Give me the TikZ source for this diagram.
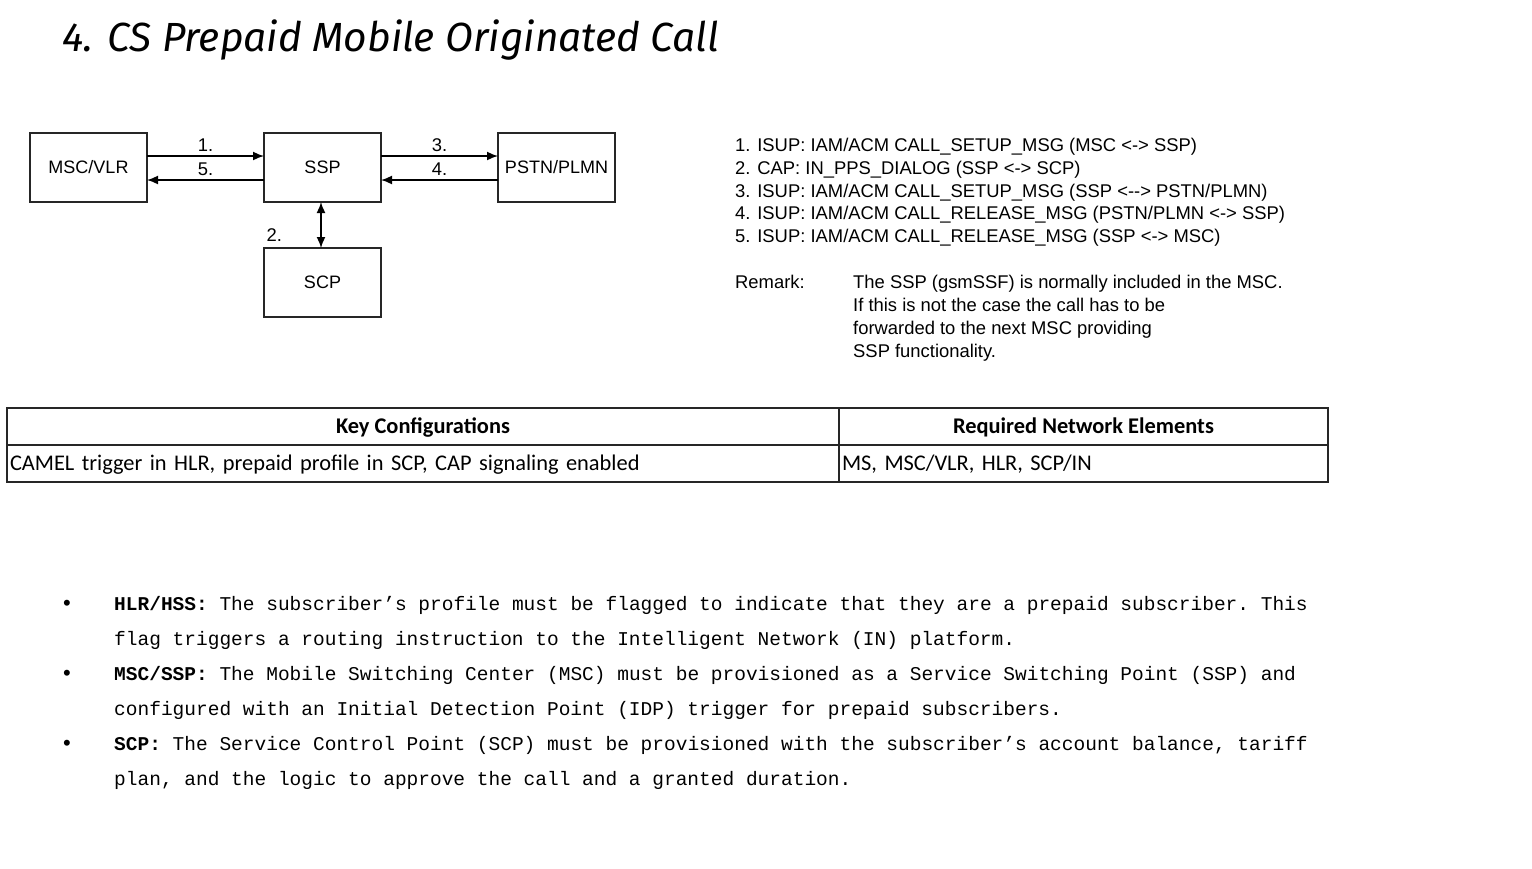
\documentclass[tikz,border=0pt]{standalone}
\usepackage{fontspec}
\setmainfont{Liberation Sans}
\setmonofont{Liberation Mono}
\newfontfamily\titlefont{Fira Sans}
\newfontfamily\tablefont{Carlito}
\usetikzlibrary{positioning,arrows.meta}

\tikzset{
    box/.style={draw=black!85, line width=1.3pt, minimum width=117pt, minimum height=69pt,
                outer sep=0pt, font=\fontsize{18}{20}\selectfont},
    msgarrow/.style={line width=1.6pt, -{Latex[length=11pt,width=9pt]}},
    lbl/.style={font=\fontsize{18.4}{20}\selectfont, text height=13pt, text depth=4pt},
    cell/.style={draw=black!85, line width=1.2pt, minimum height=37pt, inner sep=3pt,
                 text height=18pt, text depth=4pt,
                 font=\tablefont\fontsize{22.4}{24}\selectfont},
    bodyline/.style={anchor=west, font=\ttfamily\fontsize{19.5}{22}\selectfont},
}

\begin{document}
\begin{tikzpicture}[x=1pt, y=-1pt]

    \fill[white] (0,0) rectangle (1532,868);
    \useasboundingbox (0,0) rectangle (1532,868);

    \def\boxgap{117pt}
    \def\upper{11.5pt}
    \def\lower{-12.5pt}

    % Titulo
    \node[anchor=west, inner sep=0pt, font=\titlefont\itshape\fontsize{40.7}{42}\selectfont] (title) at (62,40)
        {4. CS Prepaid Mobile Originated Call};

    % Diagrama
    \node[box] (msc) at (88.5,167.5) {MSC/VLR};
    \node[box, right=\boxgap of msc] (ssp) {SSP};
    \node[box, right=\boxgap of ssp] (pstn) {PSTN/PLMN};
    \node[box, below=46pt of ssp] (scp) {SCP};

    \draw[msgarrow] ([yshift=\upper]msc.east) -- node[lbl, above=-4pt]{1.} ([yshift=\upper]ssp.west);
    \draw[msgarrow] ([yshift=\lower]ssp.west) -- node[lbl, above=-4pt]{5.} ([yshift=\lower]msc.east);
    \draw[msgarrow] ([yshift=\upper]ssp.east) -- node[lbl, above=-4pt]{3.} ([yshift=\upper]pstn.west);
    \draw[msgarrow] ([yshift=\lower]pstn.west) -- node[lbl, above=-4pt]{4.} ([yshift=\lower]ssp.east);
    \draw[msgarrow, {Latex[length=11pt,width=9pt]}-{Latex[length=11pt,width=9pt]}]
        ([xshift=-1.5pt]ssp.south) -- node[lbl, pos=0.75, left=35pt]{2.} ([xshift=-1.5pt]scp.north);

    % Mensajes
    \foreach \txt [count=\i] in {
        {1. ISUP: IAM/ACM CALL\_SETUP\_MSG (MSC <-> SSP)},
        {2. CAP: IN\_PPS\_DIALOG (SSP <-> SCP)},
        {3. ISUP: IAM/ACM CALL\_SETUP\_MSG (SSP <-{}-> PSTN/PLMN)},
        {4. ISUP: IAM/ACM CALL\_RELEASE\_MSG (PSTN/PLMN <-> SSP)},
        {5. ISUP: IAM/ACM CALL\_RELEASE\_MSG (SSP <-> MSC)}}
        \node[lbl, anchor=west, inner sep=0pt] (msg\i) at (735,{147+22.75*(\i-1)}) {\txt};

    \node[lbl, anchor=west, inner sep=0pt] (remark) at (735,284) {Remark:};
    \foreach \txt [count=\i] in {
        {The SSP (gsmSSF) is normally included in the MSC.},
        {If this is not the case the call has to be},
        {forwarded to the next MSC providing},
        {SSP functionality.}}
        \node[lbl, anchor=west, inner sep=0pt] (remark\i) at (853,{284+23*(\i-1)}) {\txt};

    % Tabla
    \node[cell, font=\tablefont\bfseries\fontsize{22.4}{24}\selectfont, minimum width=832pt]
        (keyhead) at (423,426.5) {Key Configurations};
    \node[cell, font=\tablefont\bfseries\fontsize{22.4}{24}\selectfont, minimum width=489pt]
        (elemhead) at (1083.5,426.5) {Required Network Elements};
    \node[cell, text width=826pt, align=left] (keyrow) at (423,463.5)
        {CAMEL trigger in HLR, prepaid profile in SCP, CAP signaling enabled};
    \node[cell, text width=483pt, align=left] (elemrow) at (1083.5,463.5)
        {MS, MSC/VLR, HLR, SCP/IN};

    % Lista
    \foreach \y in {605,675,745}
        \node[font=\fontsize{22}{22}\selectfont] at (67,\y) {•};
    \foreach \y/\txt in {
        605/{\textbf{HLR/HSS:} The subscriber’s profile must be flagged to indicate that they are a prepaid subscriber. This},
        640/{flag triggers a routing instruction to the Intelligent Network (IN) platform.},
        675/{\textbf{MSC/SSP:} The Mobile Switching Center (MSC) must be provisioned as a Service Switching Point (SSP) and},
        710/{configured with an Initial Detection Point (IDP) trigger for prepaid subscribers.},
        745/{\textbf{SCP:} The Service Control Point (SCP) must be provisioned with the subscriber’s account balance, tariff},
        780/{plan, and the logic to approve the call and a granted duration.}}
        \node[bodyline, inner sep=0pt] at (114,\y) {\txt};

\end{tikzpicture}
\end{document}
